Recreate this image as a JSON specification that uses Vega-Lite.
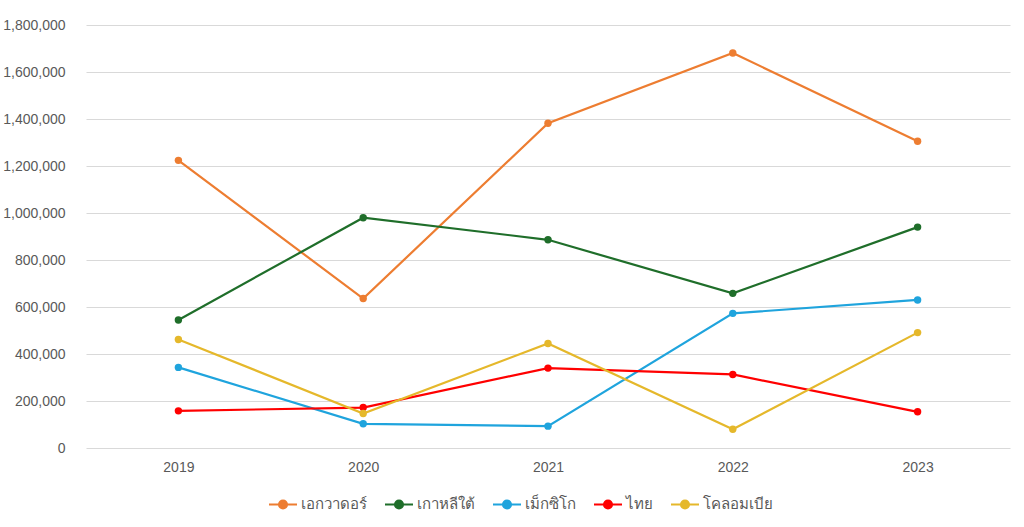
{
  "$schema": "https://vega.github.io/schema/vega-lite/v6.json",
  "width": 924,
  "height": 423,
  "autosize": {"type": "pad"},
  "padding": {"left": 2, "top": 18, "right": 14, "bottom": 0},
  "background": "white",
  "config": {
    "view": {"stroke": null},
    "font": "Liberation Sans",
    "axis": {"labelFont": "Liberation Sans", "labelFontSize": 14, "labelColor": "#595959", "gridColor": "#d9d9d9", "gridWidth": 1, "domain": false, "ticks": false, "title": null}
  },
  "data": {
    "values": [
      {"year": "2019", "country": "เอกวาดอร์", "value": 1224000},
      {"year": "2020", "country": "เอกวาดอร์", "value": 636000},
      {"year": "2021", "country": "เอกวาดอร์", "value": 1382000},
      {"year": "2022", "country": "เอกวาดอร์", "value": 1681000},
      {"year": "2023", "country": "เอกวาดอร์", "value": 1305000},
      {"year": "2019", "country": "เกาหลีใต้", "value": 545000},
      {"year": "2020", "country": "เกาหลีใต้", "value": 980000},
      {"year": "2021", "country": "เกาหลีใต้", "value": 886000},
      {"year": "2022", "country": "เกาหลีใต้", "value": 658000},
      {"year": "2023", "country": "เกาหลีใต้", "value": 940000},
      {"year": "2019", "country": "เม็กซิโก", "value": 343000},
      {"year": "2020", "country": "เม็กซิโก", "value": 103000},
      {"year": "2021", "country": "เม็กซิโก", "value": 93000},
      {"year": "2022", "country": "เม็กซิโก", "value": 573000},
      {"year": "2023", "country": "เม็กซิโก", "value": 630000},
      {"year": "2019", "country": "ไทย", "value": 158000},
      {"year": "2020", "country": "ไทย", "value": 172000},
      {"year": "2021", "country": "ไทย", "value": 340000},
      {"year": "2022", "country": "ไทย", "value": 313000},
      {"year": "2023", "country": "ไทย", "value": 154000},
      {"year": "2019", "country": "โคลอมเบีย", "value": 462000},
      {"year": "2020", "country": "โคลอมเบีย", "value": 147000},
      {"year": "2021", "country": "โคลอมเบีย", "value": 445000},
      {"year": "2022", "country": "โคลอมเบีย", "value": 80000},
      {"year": "2023", "country": "โคลอมเบีย", "value": 491000}
    ]
  },
  "mark": {"type": "line", "strokeWidth": 2.2, "point": {"filled": true, "size": 55}},
  "encoding": {
    "x": {"field": "year", "type": "ordinal", "scale": {"type": "point", "padding": 0.5}, "axis": {"labelAngle": 0, "labelPadding": 12, "grid": false}},
    "y": {"field": "value", "type": "quantitative", "scale": {"domain": [0, 1800000]}, "axis": {"values": [0, 200000, 400000, 600000, 800000, 1000000, 1200000, 1400000, 1600000, 1800000], "format": ",.0f", "labelPadding": 21}},
    "color": {
      "field": "country", "type": "nominal",
      "scale": {"domain": ["เอกวาดอร์", "เกาหลีใต้", "เม็กซิโก", "ไทย", "โคลอมเบีย"], "range": ["#ED7D31", "#1F6E2A", "#1FA4DD", "#FF0000", "#E5B82B"]},
      "legend": {
        "orient": "none", "direction": "horizontal", "title": null,
        "legendX": 182, "legendY": 464,
        "symbolType": "M-1,0L1,0M-0.29,0A0.29,0.29,0,1,1,0.29,0A0.29,0.29,0,1,1,-0.29,0Z",
        "symbolSize": 784, "symbolStrokeWidth": 2,
        "labelFontSize": 15, "labelColor": "#595959", "labelFont": "Liberation Sans",
        "columnPadding": 14, "labelOffset": 3,
        "encode": {"symbols": {"update": {"fill": {"scale": "color", "field": "value"}, "fillOpacity": {"value": 1}}}}
      }
    }
  }
}
